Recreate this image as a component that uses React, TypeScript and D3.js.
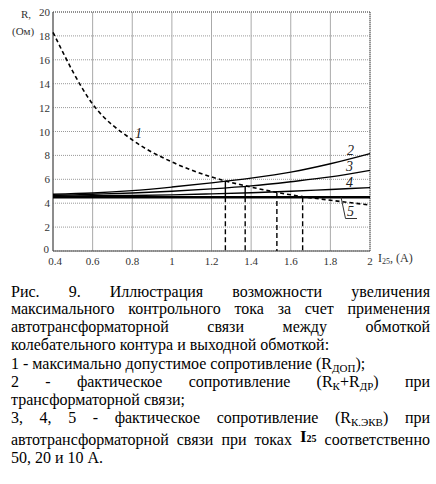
import React from "react";
import * as d3 from "d3";

const xVals = [0.4, 0.6, 0.8, 1.0, 1.2, 1.4, 1.6, 1.8, 2.0];
const curve1 = [18.3, 12.3, 9.3, 7.45, 6.2, 5.35, 4.7, 4.25, 3.85];
const curve2 = [4.75, 4.85, 5.05, 5.35, 5.7, 6.1, 6.6, 7.3, 8.15];
const curve3 = [4.65, 4.75, 4.85, 5.0, 5.2, 5.45, 5.8, 6.2, 6.75];
const curve4 = [4.6, 4.62, 4.65, 4.7, 4.78, 4.88, 5.0, 5.15, 5.3];
const curve5 = [4.5, 4.5, 4.5, 4.5, 4.5, 4.5, 4.5, 4.5, 4.5];

const dropX = [1.27, 1.37, 1.53, 1.66];
const dropTop = [5.85, 5.4, 4.85, 4.5];
const dropSolidEnd = [4.5, 4.5, 4.85, 4.5];

const yTicks = [0, 2, 4, 6, 8, 10, 12, 14, 16, 18, 20];
const xTicks = [0.4, 0.6, 0.8, 1.0, 1.2, 1.4, 1.6, 1.8, 2.0];
const xTickLabels = ["0.4", "0.6", "0.8", "1", "1.2", "1.4", "1.6", "1.8", "2"];

type Seg = { t: string; sub?: boolean; big?: boolean };
type Line = { words: Seg[][]; justify: boolean; y: number };

const w = (s: string): Seg[] => [{ t: s }];

const captionLines: Line[] = [
  { words: ["Рис.", "9.", "Иллюстрация", "возможности", "увеличения"].map(w), justify: true, y: 296.5 },
  { words: ["максимального", "контрольного", "тока", "за", "счет", "применения"].map(w), justify: true, y: 314.2 },
  { words: ["автотрансформаторной", "связи", "между", "обмоткой"].map(w), justify: true, y: 331.9 },
  { words: ["колебательного", "контура", "и", "выходной", "обмоткой:"].map(w), justify: false, y: 349.6 },
  {
    words: [w("1"), w("-"), w("максимально"), w("допустимое"), w("сопротивление"), [{ t: "(R" }, { t: "ДОП", sub: true }, { t: ");" }]],
    justify: false,
    y: 369.3,
  },
  {
    words: [w("2"), w("-"), w("фактическое"), w("сопротивление"), [{ t: "(R" }, { t: "К", sub: true }, { t: "+R" }, { t: "ДР", sub: true }, { t: ")" }], w("при")],
    justify: true,
    y: 387.3,
  },
  { words: ["трансформаторной", "связи;"].map(w), justify: false, y: 405 },
  {
    words: [w("3,"), w("4,"), w("5"), w("-"), w("фактическое"), w("сопротивление"), [{ t: "(R" }, { t: "К.ЭКВ", sub: true }, { t: ")" }], w("при")],
    justify: true,
    y: 423.3,
  },
  {
    words: [w("автотрансформаторной"), w("связи"), w("при"), w("токах"), [{ t: "I", big: true }, { t: "25", big: true, sub: true }], w("соответственно")],
    justify: true,
    y: 445,
  },
  { words: ["50,", "20", "и", "10", "А."].map(w), justify: false, y: 463 },
];

const FONT = "'Liberation Serif', 'Times New Roman', 'DejaVu Serif', serif";
const BASE = 16;

let ctx: CanvasRenderingContext2D | null = null;
function segSize(s: Seg) {
  return s.big ? (s.sub ? 10 : 17) : s.sub ? 11 : BASE;
}
function measure(seg: Seg): number {
  if (!ctx) ctx = document.createElement("canvas").getContext("2d");
  if (!ctx) return seg.t.length * 8;
  const weight = seg.big ? "bold " : "";
  ctx.font = `${weight}${segSize(seg)}px ${FONT}`;
  return ctx.measureText(seg.t).width;
}

const LEFT = 11;
const RIGHT = 430;

function CaptionLine({ line }: { line: Line }) {
  const widths = line.words.map((wd) => wd.reduce((a, s) => a + measure(s), 0));
  const total = widths.reduce((a, b) => a + b, 0);
  const spaceNat = BASE * 0.25;
  const gap = line.justify && line.words.length > 1 ? (RIGHT - LEFT - total) / (line.words.length - 1) : spaceNat;
  let x = LEFT;
  const out: React.ReactNode[] = [];
  line.words.forEach((wd, i) => {
    let cx = x;
    wd.forEach((s, j) => {
      const dy = s.big ? (s.sub ? -3 : -3) : s.sub ? 3 : 0;
      out.push(
        <text
          key={`${i}-${j}`}
          x={cx}
          y={line.y + dy}
          fontFamily={FONT}
          fontSize={segSize(s)}
          fontWeight={s.big ? "bold" : "normal"}
          fill="#000"
        >
          {s.t}
        </text>
      );
      cx += measure(s);
    });
    x += widths[i] + gap;
  });
  return <g>{out}</g>;
}

export default function App() {
  const x = d3.scaleLinear().domain([0.4, 2]).range([53, 370]);
  const y = d3.scaleLinear().domain([0, 20]).range([251, 12]);
  const line = d3
    .line<[number, number]>()
    .x((d) => x(d[0]))
    .y((d) => y(d[1]))
    .curve(d3.curveMonotoneX);
  const mk = (vals: number[]) => line(xVals.map((v, i) => [v, vals[i]] as [number, number])) || "";

  return (
    <svg width={436} height={484} style={{ position: "absolute", left: 0, top: 0 }}>
      <rect width={436} height={484} fill="#fff" />
      {/* grid */}
      {yTicks.map((t) => (
        <line key={"gy" + t} x1={x(0.4)} x2={x(2)} y1={y(t)} y2={y(t)} stroke="#999" strokeWidth={1} strokeDasharray="1,1" />
      ))}
      {xTicks.map((t) => (
        <line key={"gx" + t} x1={x(t)} x2={x(t)} y1={y(0)} y2={y(20)} stroke="#aaa" strokeWidth={1} />
      ))}
      {/* frame */}
      <line x1={x(0.4)} x2={x(2)} y1={y(20)} y2={y(20)} stroke="#555" strokeDasharray="1,1" />
      <line x1={x(2)} x2={x(2)} y1={y(0)} y2={y(20)} stroke="#555" strokeDasharray="1,1" />
      <line x1={x(0.4)} x2={x(0.4)} y1={y(0)} y2={y(20)} stroke="#444" strokeWidth={1} />
      <line x1={x(0.4)} x2={x(2)} y1={y(0)} y2={y(0)} stroke="#444" strokeWidth={1} />
      {/* tick labels */}
      {yTicks.map((t) => (
        <text key={"ty" + t} x={t === 0 ? 49 : 50} y={y(t) + (t === 0 ? 2 : 4)} textAnchor="end" fontFamily={FONT} fontSize={11} fill="#333">
          {t}
        </text>
      ))}
      {xTicks.map((t, i) => (
        <text key={"tx" + t} x={x(t) + (i === 0 ? 2 : 0)} y={265} textAnchor="middle" fontFamily={FONT} fontSize={11} fill="#333">
          {xTickLabels[i]}
        </text>
      ))}
      {/* axis titles */}
      <text x={21} y={18} fontFamily={FONT} fontSize={11} fill="#333">R,</text>
      <text x={12} y={35} fontFamily={FONT} fontSize={11} fill="#333">(Ом)</text>
      <text x={378} y={262} fontFamily={FONT} fontSize={12} fill="#333">
        I<tspan fontSize={8} dy={2}>25</tspan>
        <tspan dy={-2}>, (A)</tspan>
      </text>
      {/* curves */}
      <path d={mk(curve5)} fill="none" stroke="#000" strokeWidth={2.4} />
      <path d={mk(curve4)} fill="none" stroke="#000" strokeWidth={1.4} />
      <path d={mk(curve3)} fill="none" stroke="#000" strokeWidth={1.4} />
      <path d={mk(curve2)} fill="none" stroke="#000" strokeWidth={1.4} />
      <path d={mk(curve1)} fill="none" stroke="#000" strokeWidth={1.6} strokeDasharray="4,3" />
      {/* drop lines */}
      {dropX.map((dx, i) => (
        <g key={"d" + i}>
          <line x1={x(dx)} x2={x(dx)} y1={y(dropTop[i])} y2={y(dropSolidEnd[i])} stroke="#000" strokeWidth={1.4} />
          <line x1={x(dx)} x2={x(dx)} y1={y(dropSolidEnd[i])} y2={y(0)} stroke="#000" strokeWidth={1.4} strokeDasharray="5,3" />
        </g>
      ))}
      {/* curve labels */}
      <text x={135} y={138} fontFamily={FONT} fontSize={14} fontStyle="italic" fill="#222">1</text>
      <text x={347} y={155} fontFamily={FONT} fontSize={14} fontStyle="italic" fill="#222">2</text>
      <text x={346} y={171} fontFamily={FONT} fontSize={14} fontStyle="italic" fill="#222">3</text>
      <text x={346} y={187} fontFamily={FONT} fontSize={14} fontStyle="italic" fill="#222">4</text>
      <text x={347} y={216} fontFamily={FONT} fontSize={14} fontStyle="italic" fill="#222">5</text>
      <polyline points="341,197 345.5,218.5 357,218.5" fill="none" stroke="#333" strokeWidth={1} />
      {/* caption */}
      {captionLines.map((l, i) => (
        <CaptionLine key={"c" + i} line={l} />
      ))}
    </svg>
  );
}
